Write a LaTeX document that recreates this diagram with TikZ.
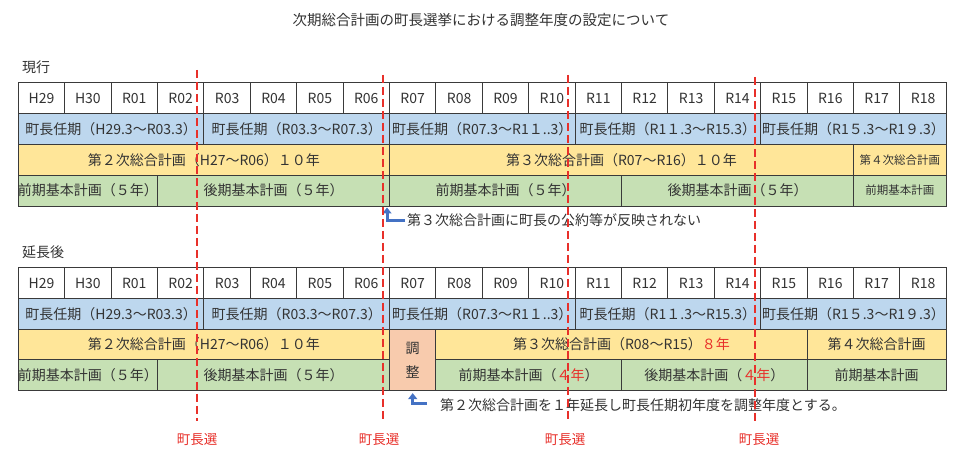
\documentclass[tikz,border=0pt]{standalone}
\usepackage{fontspec}
\setmainfont{Noto Sans CJK JP}
\usetikzlibrary{arrows.meta}
\definecolor{rowblue}{HTML}{BDD7EE}
\definecolor{rowyellow}{HTML}{FFE699}
\definecolor{rowgreen}{HTML}{C6E0B4}
\definecolor{adjorange}{HTML}{F8CBAD}
\definecolor{elecred}{HTML}{E8302A}
\definecolor{arrowblue}{HTML}{4472C4}
\definecolor{txt}{HTML}{333333}
\definecolor{gridline}{HTML}{3A3A3A}
\tikzset{
  cellnode/.style={draw=gridline, line width=0.9pt, inner sep=0pt, text=txt, font=\fontsize{14}{16}\selectfont},
  smallcell/.style={cellnode, font=\fontsize{11.5}{13}\selectfont},
  elecline/.style={draw=elecred, line width=2pt, dash pattern=on 8pt off 4pt},
  eleclabel/.style={text=elecred, font=\fontsize{13.5}{15}\selectfont, inner sep=0pt},
  plainlabel/.style={text=txt, font=\fontsize{14}{16}\selectfont, inner sep=0pt},
  annarrow/.style={draw=arrowblue, line width=3pt, -{Triangle[width=9pt,length=6pt]}}
}
% name, col1, col2, y1, y2, fill, text, style
\newcommand\mkcell[8]{%
  \node[#8, fill=#6, minimum width={46.4*(#3-(#2))*1pt}, minimum height={(#5-#4)*1pt}]
    (#1) at ({18.3+46.4*((#2)+(#3))/2},{(#4+#5)/2}) {\makebox[0pt]{#7}};}
\begin{document}
\begin{tikzpicture}[x=1pt,y=-1pt]
\useasboundingbox[fill=white] (0,0) rectangle (962,462);

% title and section labels
\node[plainlabel, font=\fontsize{14.5}{16}\selectfont] (title) at (481,20) {次期総合計画の町長選挙における調整年度の設定について};
\node[plainlabel, anchor=west] (cur) at (22,67) {現行};
\node[plainlabel, anchor=west] (ext) at (22,252) {延長後};

% ===== year rows =====
\foreach \i/\lab in {0/H29,1/H30,2/R01,3/R02,4/R03,5/R04,6/R05,7/R06,8/R07,9/R08,10/R09,11/R10,12/R11,13/R12,14/R13,15/R14,16/R15,17/R16,18/R17,19/R18}{
  \mkcell{ya\i}{\i}{\i+1}{82.7}{113.5}{white}{\lab}{cellnode}
  \mkcell{yb\i}{\i}{\i+1}{267.7}{298.9}{white}{\lab}{cellnode}
}
% ===== Table 1 =====
\mkcell{ta1}{0}{4}{113.5}{144.3}{rowblue}{町長任期（H29.3～R03.3）}{cellnode}
\mkcell{ta2}{4}{8}{113.5}{144.3}{rowblue}{町長任期（R03.3～R07.3）}{cellnode}
\mkcell{ta3}{8}{12}{113.5}{144.3}{rowblue}{町長任期（R07.3～R1１..3）}{cellnode}
\mkcell{ta4}{12}{16}{113.5}{144.3}{rowblue}{町長任期（R1１.3～R15.3）}{cellnode}
\mkcell{ta5}{16}{20}{113.5}{144.3}{rowblue}{町長任期（R1５.3～R1９.3）}{cellnode}
\mkcell{pa1}{0}{8}{144.3}{175.1}{rowyellow}{第２次総合計画（H27～R06）１０年}{cellnode}
\mkcell{pa2}{8}{18}{144.3}{175.1}{rowyellow}{第３次総合計画（R07～R16）１０年}{cellnode}
\mkcell{pa3}{18}{20}{144.3}{175.1}{rowyellow}{第４次総合計画}{smallcell}
\mkcell{ga1}{0}{3}{175.1}{206}{rowgreen}{前期基本計画（５年）}{cellnode}
\mkcell{ga2}{3}{8}{175.1}{206}{rowgreen}{後期基本計画（５年）}{cellnode}
\mkcell{ga3}{8}{13}{175.1}{206}{rowgreen}{前期基本計画（５年）}{cellnode}
\mkcell{ga4}{13}{18}{175.1}{206}{rowgreen}{後期基本計画（５年）}{cellnode}
\mkcell{ga5}{18}{20}{175.1}{206}{rowgreen}{前期基本計画}{smallcell}

% ===== Table 2 =====
\mkcell{tb1}{0}{4}{298.9}{329.4}{rowblue}{町長任期（H29.3～R03.3）}{cellnode}
\mkcell{tb2}{4}{8}{298.9}{329.4}{rowblue}{町長任期（R03.3～R07.3）}{cellnode}
\mkcell{tb3}{8}{12}{298.9}{329.4}{rowblue}{町長任期（R07.3～R1１..3）}{cellnode}
\mkcell{tb4}{12}{16}{298.9}{329.4}{rowblue}{町長任期（R1１.3～R15.3）}{cellnode}
\mkcell{tb5}{16}{20}{298.9}{329.4}{rowblue}{町長任期（R1５.3～R1９.3）}{cellnode}
\mkcell{pb1}{0}{8}{329.4}{359.9}{rowyellow}{第２次総合計画（H27～R06）１０年}{cellnode}
\mkcell{pb2}{9}{17}{329.4}{359.9}{rowyellow}{第３次総合計画（R08～R15）\textcolor{elecred}{８年}}{cellnode}
\mkcell{pb3}{17}{20}{329.4}{359.9}{rowyellow}{第４次総合計画}{cellnode}
\mkcell{gb1}{0}{3}{359.9}{390.7}{rowgreen}{前期基本計画（５年）}{cellnode}
\mkcell{gb2}{3}{8}{359.9}{390.7}{rowgreen}{後期基本計画（５年）}{cellnode}
\mkcell{gb3}{9}{13}{359.9}{390.7}{rowgreen}{前期基本計画（\textcolor{elecred}{４年}）}{cellnode}
\mkcell{gb4}{13}{17}{359.9}{390.7}{rowgreen}{後期基本計画（\textcolor{elecred}{４年}）}{cellnode}
\mkcell{gb5}{17}{20}{359.9}{390.7}{rowgreen}{前期基本計画}{cellnode}
\node[cellnode, fill=adjorange, minimum width=46.4pt, minimum height=61.3pt, align=center,
      font=\fontsize{14}{24}\selectfont] (adj) at ({18.3+46.4*8.5},{(329.4+390.7)/2}) {調\\整};

% ===== annotations =====
\node[plainlabel, anchor=west] (ann1) at (407,220.5) {第３次総合計画に町長の公約等が反映されない};
\coordinate (tip1) at (387,206);
\draw[annarrow, shorten >=1.5pt] ([xshift=-2pt]ann1.west) -| (tip1);
\node[plainlabel, anchor=west] (ann2) at (440,405.5) {第２次総合計画を１年延長し町長任期初年度を調整年度とする。};
\draw[annarrow, shorten >=2pt] ([xshift=-13pt,yshift=1.5pt]ann2.west) -| (adj.south);

% ===== election lines =====
\draw[elecline] (197,70) coordinate (e1top) -- (197,421) coordinate (e1bot);
\draw[elecline] (383.3,75) coordinate (e2top) -- (383.3,421) coordinate (e2bot);
\draw[elecline] (568.3,75) coordinate (e3top) -- (568.3,421) coordinate (e3bot);
\draw[elecline] (755,77) coordinate (e4top) -- (755,421) coordinate (e4bot);
\node[eleclabel] (el1) at (197,440) {町長選};
\node[eleclabel] (el2) at (379,440) {町長選};
\node[eleclabel] (el3) at (565,440) {町長選};
\node[eleclabel] (el4) at (759,440) {町長選};
\end{tikzpicture}
\end{document}
